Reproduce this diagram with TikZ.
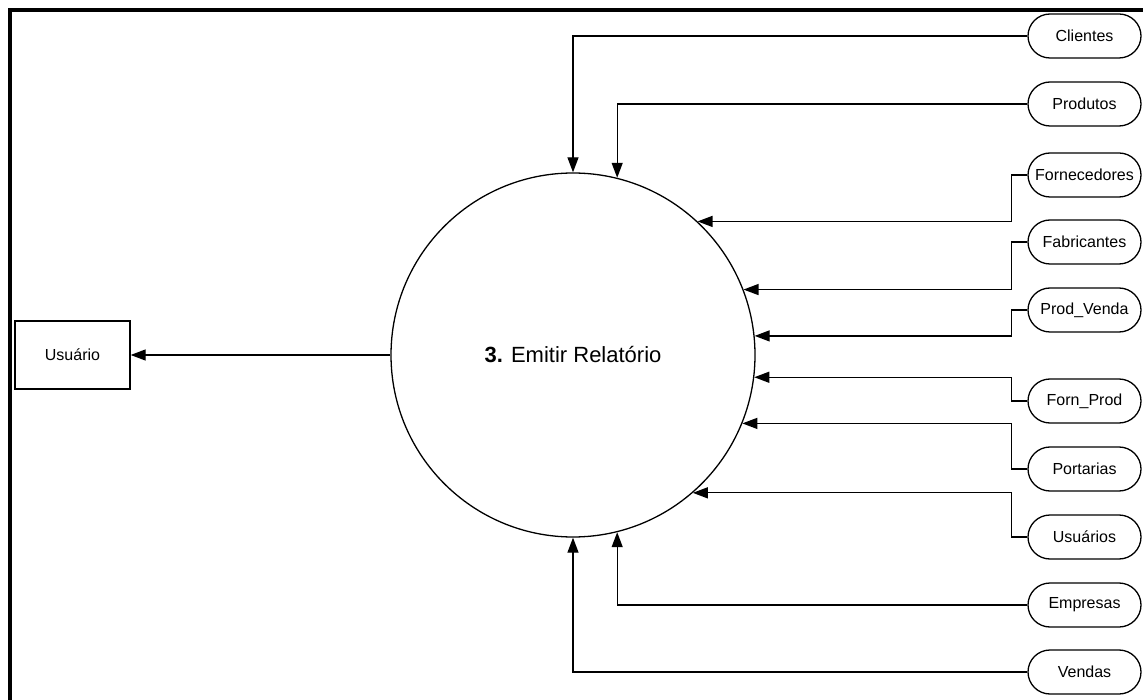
\documentclass[tikz,border=0pt]{standalone}
\usepackage{fontspec}
\setmainfont{Liberation Sans}
\usetikzlibrary{arrows.meta}
\begin{document}
\begin{tikzpicture}[x=1pt,y=-1pt,
  store/.style={draw,line width=1.3pt,rounded corners=22pt,minimum width=113pt,minimum height=44pt,inner sep=0pt,font=\fontsize{16}{19}\selectfont},
  ext/.style={draw,line width=1.3pt,minimum width=115pt,minimum height=68pt,inner sep=0pt,font=\fontsize{16}{19}\selectfont},
  proc/.style={draw,circle,line width=1.3pt,minimum size=364pt,inner sep=0pt,font=\fontsize{22}{26}\selectfont},
  flow/.style={line width=1.3pt,-{Triangle[length=15pt,width=11pt]}}]
\useasboundingbox (0,0) rectangle (1143,700);
\draw[line width=4pt] (10,10) rectangle (1170,730);

\node[proc] (c) at (573,355) {\textbf{3.} Emitir Relatório};
\node[ext] (usuario) at (72.5,355) {Usuário};

\node[store] (clientes) at (1084.5,36) {Clientes};
\node[store] (produtos) at (1084.5,104) {Produtos};
\node[store] (fornecedores) at (1084.5,175) {Fornecedores};
\node[store] (fabricantes) at (1084.5,242) {Fabricantes};
\node[store] (prodvenda) at (1084.5,310) {Prod\_Venda};
\node[store] (fornprod) at (1084.5,401) {Forn\_Prod};
\node[store] (portarias) at (1084.5,469) {Portarias};
\node[store] (usuarios) at (1084.5,537) {Usuários};
\node[store] (empresas) at (1084.5,605) {Empresas};
\node[store] (vendas) at (1084.5,672) {Vendas};

\draw[flow] (c.west) -- (usuario.east);
\draw[flow] (clientes.west) -| (c.north);
\draw[flow] (produtos.west) -| (c.76);
\draw[flow] (fornecedores.west) -- ++(-16,0) |- (c.47.43);
\draw[flow] (fabricantes.west) -- ++(-16,0) |- (c.21.6);
\draw[flow] (prodvenda.west) -- ++(-16,0) |- (c.6.94);
\draw[flow] (fornprod.west) -- ++(-16,0) |- (c.-7.89);
\draw[flow] (portarias.west) -- ++(-16,0) |- (c.-22.28);
\draw[flow] (usuarios.west) -- ++(-16,0) |- (c.-49.31);
\draw[flow] (empresas.west) -| (c.-76);
\draw[flow] (vendas.west) -| (c.south);
\end{tikzpicture}
\end{document}
